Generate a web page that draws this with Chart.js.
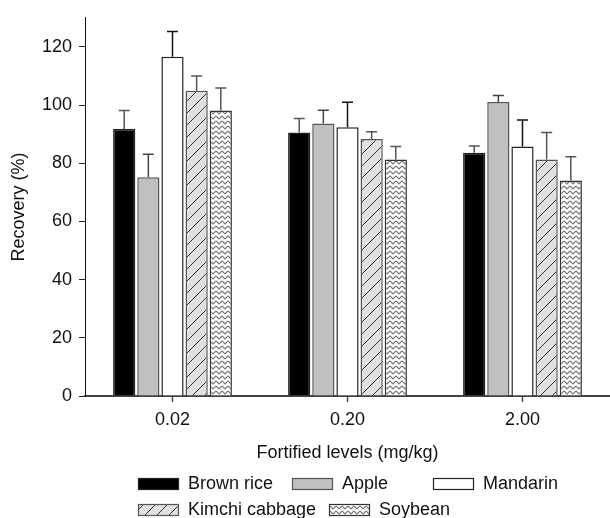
<!DOCTYPE html>
<html>
<head>
<meta charset="utf-8">
<script src="https://cdn.jsdelivr.net/npm/chart.js@4.4.1/dist/chart.umd.min.js"></script>
<style>
  html, body { margin: 0; padding: 0; background: #fff; }
  canvas { display: block; }
</style>
</head>
<body>
<canvas id="myChart" width="610" height="518"></canvas>
<script>
// datos
const levels = ['0.02', '0.20', '2.00'];
const brownRice = [91.8, 90.6, 83.6];
const brownRiceErr = [6.3, 4.8, 2.3];
const apple = [75.2, 93.7, 101.1];
const appleErr = [7.9, 4.5, 2.2];
const mandarin = [116.6, 92.4, 85.8];
const mandarinErr = [8.7, 8.6, 9.1];
const kimchi = [104.9, 88.3, 81.3];
const kimchiErr = [5.1, 2.5, 9.3];
const soybean = [98.1, 81.3, 74.1];
const soybeanErr = [7.8, 4.5, 8.1];
const yTicks = [0, 20, 40, 60, 80, 100, 120];

const FONT = "'Liberation Sans', Arial, sans-serif";

function hatchPattern() {
    const c = document.createElement('canvas');
    c.width = 12; c.height = 12;
    const g = c.getContext('2d');
    g.fillStyle = '#e0e0e0';
    g.fillRect(0, 0, 12, 12);
    g.strokeStyle = '#333';
    g.lineWidth = 1;
    g.beginPath();
    g.moveTo(0, 12); g.lineTo(12, 0);
    g.moveTo(-2, 2); g.lineTo(2, -2);
    g.moveTo(10, 14); g.lineTo(14, 10);
    g.stroke();
    return g.createPattern(c, 'repeat');
}

function zigzagPattern() {
    const c = document.createElement('canvas');
    c.width = 6; c.height = 5;
    const g = c.getContext('2d');
    g.fillStyle = '#fff';
    g.fillRect(0, 0, 6, 5);
    g.strokeStyle = '#777';
    g.lineWidth = 1.2;
    g.beginPath();
    g.moveTo(0, 1); g.lineTo(3, 4); g.lineTo(6, 1);
    g.stroke();
    return g.createPattern(c, 'repeat');
}

const errorBars = {
    id: 'errorBars',
    afterDatasetsDraw(chart) {
        const ctx = chart.ctx;
        const y = chart.scales.y;
        chart.data.datasets.forEach((ds, i) => {
            const meta = chart.getDatasetMeta(i);
            meta.data.forEach((bar, j) => {
                const top = y.getPixelForValue(ds.data[j] + ds.errors[j]);
                ctx.save();
                ctx.strokeStyle = ds.errorColor;
                ctx.lineWidth = 1.5;
                ctx.beginPath();
                ctx.moveTo(bar.x, bar.y);
                ctx.lineTo(bar.x, top);
                ctx.moveTo(bar.x - 5.5, top);
                ctx.lineTo(bar.x + 5.5, top);
                ctx.stroke();
                ctx.restore();
            });
        });
    }
};

// leyenda propia, dos filas como en la figura
const customLegend = {
    id: 'customLegend',
    afterDraw(chart) {
        const ctx = chart.ctx;
        const spots = [[138, 478], [292, 478], [433, 478], [138, 504], [329, 504]];
        chart.data.datasets.forEach((ds, i) => {
            const [x, y] = spots[i];
            ctx.save();
            ctx.fillStyle = ds.backgroundColor;
            ctx.fillRect(x, y, 41, 12);
            ctx.strokeStyle = ds.borderColor;
            ctx.lineWidth = 1.2;
            ctx.strokeRect(x + 0.5, y + 0.5, 40, 11);
            ctx.fillStyle = '#111';
            ctx.font = '18px ' + FONT;
            ctx.textBaseline = 'middle';
            ctx.fillText(ds.label, x + 50, y + 6.5);
            ctx.restore();
        });
    }
};

const ctx = document.getElementById('myChart').getContext('2d');
const myChart = new Chart(ctx, {
    type: 'bar',
    data: {
        labels: levels,
        datasets: [
            { label: 'Brown rice', data: brownRice, errors: brownRiceErr, backgroundColor: '#000', borderColor: '#222', errorColor: '#555' },
            { label: 'Apple', data: apple, errors: appleErr, backgroundColor: '#c0c0c0', borderColor: '#555', errorColor: '#444' },
            { label: 'Mandarin', data: mandarin, errors: mandarinErr, backgroundColor: '#fff', borderColor: '#222', errorColor: '#111' },
            { label: 'Kimchi cabbage', data: kimchi, errors: kimchiErr, backgroundColor: hatchPattern(), borderColor: '#555', errorColor: '#555' },
            { label: 'Soybean', data: soybean, errors: soybeanErr, backgroundColor: zigzagPattern(), borderColor: '#333', errorColor: '#555' }
        ]
    },
    options: {
        responsive: false,
        animation: false,
        devicePixelRatio: 1,
        layout: { padding: { top: 14, right: 0, bottom: 52, left: 0 } },
        datasets: {
            bar: { categoryPercentage: 0.69, barPercentage: 0.92, borderWidth: 1.5 }
        },
        scales: {
            x: {
                grid: { offset: false, drawOnChartArea: false, tickLength: 6, color: '#444', tickWidth: 1.5 },
                border: { color: '#444', width: 2 },
                ticks: { color: '#111', padding: 7, font: { family: FONT, size: 18 } },
                title: {
                    display: true,
                    text: 'Fortified levels (mg/kg)',
                    color: '#111',
                    font: { family: FONT, size: 18 },
                    padding: { top: 0, bottom: 2 }
                },
                afterFit: (scale) => { scale.height = 70; }
            },
            y: {
                min: 0,
                max: 130,
                grid: { drawOnChartArea: false, tickLength: 6, color: '#222' },
                border: { color: '#111', width: 1 },
                ticks: { stepSize: 20, color: '#111', padding: 7, font: { family: FONT, size: 18 } },
                afterBuildTicks: (scale) => {
                    scale.ticks = yTicks.map(v => ({ value: v }));
                },
                title: {
                    display: true,
                    text: 'Recovery (%)',
                    color: '#111',
                    font: { family: FONT, size: 18 },
                    padding: { top: 8, bottom: 0 }
                },
                afterFit: (scale) => { scale.width = 85; }
            }
        },
        plugins: {
            legend: { display: false },
            tooltip: { enabled: false }
        }
    },
    plugins: [errorBars, customLegend]
});
</script>
</body>
</html>
